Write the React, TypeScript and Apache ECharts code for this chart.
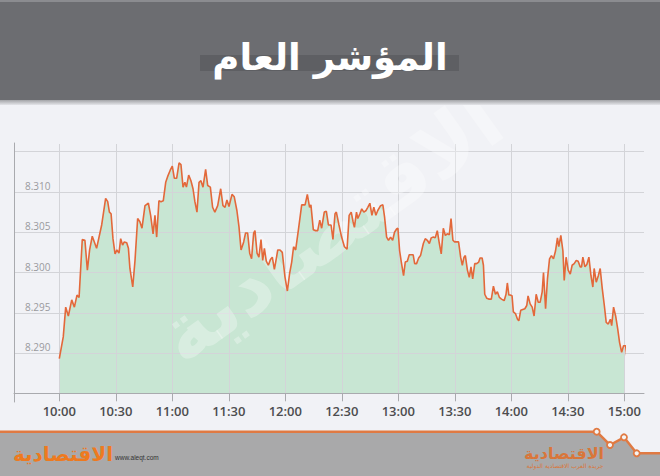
import React, { useEffect, useRef } from "react";
import * as echarts from "echarts";

// minutes after 10:00
const minutes: number[] = [
  0, 2.1, 3.4, 4.8, 6.6, 8.0, 9.4, 10.5, 12.2, 13.6, 14.9, 16.1, 17.5, 19.8, 22.5, 24.6, 25.7, 26.6, 27.5, 28.5,
  29.6, 30.6, 31.7, 32.6, 33.6, 34.5, 35.8, 36.7, 37.5, 39.0, 40.2, 41.6, 42.8, 43.9, 45.5, 47.3, 48.5, 49.8, 50.8, 51.7,
  52.9, 54.0, 55.2, 56.5, 57.5, 58.9, 60.0, 61.1, 62.3, 63.6, 64.6, 65.7, 66.7, 67.5, 68.7, 69.9, 71.0, 72.0, 73.1, 74.2,
  75.2, 76.3, 77.7, 78.8, 80.2, 81.4, 82.6, 84.1, 85.7, 86.9, 88.0, 89.0, 90.1, 91.7, 92.9, 94.3, 95.4, 96.5, 97.9, 98.9,
  100.0, 101.1, 102.1, 103.2, 103.9, 105.0, 106.0, 107.1, 108.0, 108.9, 109.9, 111.0, 112.1, 113.1, 114.2, 114.9, 116.0, 117.2, 118.4, 119.8,
  121.1, 122.3, 123.4, 124.4, 125.5, 126.9, 128.7, 130.5, 131.7, 132.9, 133.6, 134.9, 136.1, 137.2, 138.3, 139.3, 140.7, 141.8, 142.9, 144.3,
  145.3, 146.4, 147.1, 148.5, 149.9, 151.4, 152.8, 153.9, 155.0, 156.0, 156.7, 157.8, 158.5, 159.6, 160.6, 161.7, 162.9, 163.8, 164.9, 166.0,
  167.0, 168.1, 169.1, 170.6, 171.8, 172.7, 173.8, 174.8, 175.9, 177.0, 178.0, 179.1, 179.8, 180.7, 181.6, 182.8, 183.7, 184.8, 185.8, 186.9,
  187.9, 188.7, 189.7, 190.8, 191.8, 193.3, 194.3, 195.4, 196.5, 197.5, 198.6, 199.6, 200.7, 201.8, 202.8, 203.9, 205.0, 206.0, 207.1, 208.0,
  209.0, 209.9, 211.0, 212.0, 213.1, 214.0, 214.9, 215.6, 216.7, 217.7, 218.6, 219.5, 220.6, 221.6, 222.7, 223.4, 224.5, 225.2, 225.9, 227.0,
  228.0, 229.4, 230.5, 231.6, 232.6, 233.7, 234.8, 236.2, 237.2, 237.9, 238.7, 239.4, 240.4, 241.1, 242.2, 243.3, 244.0, 245.0, 246.1, 247.2,
  248.2, 248.9, 250.0, 251.1, 252.1, 253.2, 254.3, 255.3, 256.4, 257.1, 258.2, 259.2, 260.3, 261.3, 262.4, 263.5, 264.5, 265.2, 266.3, 267.4,
  268.1, 269.1, 270.2, 271.3, 272.3, 273.4, 274.5, 275.5, 276.6, 277.3, 278.0, 279.1, 280.1, 281.2, 282.3, 283.3, 284.0, 285.1, 286.2, 287.2,
  288.3, 289.4, 290.4, 291.5, 292.6, 293.3, 294.3, 295.4, 296.5, 297.5, 298.6, 299.6, 300.7, 301.4,
];

const values: number[] = [
  8.2893, 8.2920, 8.2957, 8.2946, 8.2966, 8.2957, 8.2972, 8.2969, 8.3041, 8.3040, 8.3003, 8.3028, 8.3045, 8.3030, 8.3059, 8.3092, 8.3088, 8.3075, 8.3073, 8.3042,
  8.3023, 8.3028, 8.3024, 8.3042, 8.3034, 8.3038, 8.3037, 8.3030, 8.3005, 8.2982, 8.3015, 8.3067, 8.3063, 8.3055, 8.3083, 8.3086, 8.3071, 8.3048, 8.3071, 8.3044,
  8.3089, 8.3088, 8.3089, 8.3112, 8.3119, 8.3127, 8.3132, 8.3117, 8.3117, 8.3136, 8.3134, 8.3106, 8.3112, 8.3106, 8.3121, 8.3114, 8.3104, 8.3088, 8.3075, 8.3112,
  8.3114, 8.3106, 8.3128, 8.3108, 8.3106, 8.3081, 8.3075, 8.3083, 8.3104, 8.3083, 8.3081, 8.3090, 8.3082, 8.3097, 8.3094, 8.3077, 8.3057, 8.3028, 8.3038, 8.3049,
  8.3049, 8.3024, 8.3017, 8.3049, 8.3052, 8.3024, 8.3019, 8.3041, 8.3015, 8.3030, 8.3014, 8.3009, 8.3016, 8.3019, 8.3004, 8.3013, 8.3028, 8.3028, 8.3025, 8.2995,
  8.2977, 8.2999, 8.3013, 8.3032, 8.3028, 8.3052, 8.3084, 8.3084, 8.3097, 8.3081, 8.3084, 8.3053, 8.3052, 8.3052, 8.3065, 8.3055, 8.3075, 8.3076, 8.3059, 8.3059,
  8.3041, 8.3073, 8.3075, 8.3059, 8.3044, 8.3032, 8.3029, 8.3071, 8.3075, 8.3063, 8.3056, 8.3075, 8.3067, 8.3073, 8.3079, 8.3075, 8.3077, 8.3081, 8.3086, 8.3071,
  8.3081, 8.3071, 8.3077, 8.3083, 8.3084, 8.3069, 8.3044, 8.3040, 8.3044, 8.3040, 8.3050, 8.3054, 8.3055, 8.3027, 8.3013, 8.2996, 8.3013, 8.3014, 8.3022, 8.3022,
  8.3022, 8.3011, 8.3011, 8.3018, 8.3021, 8.3036, 8.3042, 8.3040, 8.3036, 8.3043, 8.3044, 8.3043, 8.3052, 8.3036, 8.3023, 8.3055, 8.3046, 8.3048, 8.3047, 8.3067,
  8.3040, 8.3038, 8.3038, 8.3038, 8.3019, 8.3009, 8.3019, 8.3021, 8.3003, 8.2994, 8.3007, 8.2992, 8.3011, 8.3011, 8.3013, 8.3018, 8.3018, 8.3009, 8.2973, 8.2968,
  8.2967, 8.2967, 8.2983, 8.2973, 8.2976, 8.2969, 8.2967, 8.2965, 8.2973, 8.2987, 8.2972, 8.2972, 8.2971, 8.2951, 8.2949, 8.2942, 8.2940, 8.2953, 8.2954, 8.2955,
  8.2959, 8.2971, 8.2961, 8.2957, 8.2946, 8.2973, 8.2963, 8.2963, 8.2976, 8.3000, 8.2955, 8.2992, 8.3017, 8.3021, 8.3017, 8.3027, 8.3043, 8.3032, 8.3046, 8.3027,
  8.2990, 8.3019, 8.3003, 8.2998, 8.3009, 8.3011, 8.3015, 8.3014, 8.3007, 8.3007, 8.3019, 8.3007, 8.3010, 8.3019, 8.2996, 8.2982, 8.3005, 8.2988, 8.2996, 8.3005,
  8.2980, 8.2959, 8.2938, 8.2936, 8.2942, 8.2934, 8.2957, 8.2946, 8.2930, 8.2913, 8.2901, 8.2909, 8.2909, 8.2895,
];

const yTicks = { min: 8.285, max: 8.315, step: 0.005 };
const xTicks = { min: 0, max: 300, step: 30 };

const title = "المؤشر العام";
const brand = "الاقتصادية";
const brandSub = "جريدة العرب الاقتصادية الدولية";
const site = "www.aleqt.com";

export default function App() {
  const ref = useRef<HTMLDivElement>(null);
  useEffect(() => {
    if (!ref.current) return;
    const chart = echarts.init(ref.current, null, { renderer: "svg" });
    const data = minutes.map((m, i) => [m, values[i]]);
    const gridTop = 151.7;
    const gridBottomY = 393.3;
    const pxPerUnit = (gridBottomY - gridTop) / (yTicks.max - yTicks.min);
    const dataTop = 144;
    const yMax1 = yTicks.min + (gridBottomY - dataTop) / pxPerUnit;
    const gridColor = "#d3d4d8";
    const axisColor = "#a9aaae";
    const orange = "#e07a43";

    chart.setOption({
      animation: false,
      backgroundColor: "#f1f2f6",
      grid: [
        { left: 14, right: 16, top: gridTop, bottom: 476 - gridBottomY },
        { left: 59.3, right: 660 - 624.3, top: dataTop, bottom: 476 - gridBottomY },
        { left: 14, width: 1, top: 143, bottom: 476 - 402 },
      ],
      xAxis: [
        {
          gridIndex: 0, type: "value", min: 0, max: 1, z: 2,
          axisLine: { show: true, lineStyle: { color: axisColor, width: 1 } },
          axisTick: { show: false }, axisLabel: { show: false }, splitLine: { show: false },
        },
        {
          gridIndex: 1, type: "value", min: xTicks.min, max: xTicks.max, interval: xTicks.step, z: 2,
          axisLine: { show: false },
          axisTick: { show: true, length: 8, lineStyle: { color: axisColor } },
          splitLine: { show: true, lineStyle: { color: gridColor, width: 1 } },
          axisLabel: {
            margin: 11,
            color: "#4d4d4f",
            fontSize: 13,
            fontWeight: 600,
            fontFamily: "Open Sans",
            formatter: (v: number) => {
              const h = 10 + Math.floor(v / 60);
              const mm = Math.round(v % 60);
              return `${h}:${mm < 10 ? "0" + mm : mm}`;
            },
          },
        },
        { gridIndex: 2, type: "value", show: false },
      ],
      yAxis: [
        {
          gridIndex: 0, type: "value", min: yTicks.min, max: yTicks.max, interval: yTicks.step, z: 2,
          axisLine: { show: false }, axisTick: { show: false },
          splitLine: { show: true, lineStyle: { color: gridColor, width: 1 } },
          axisLabel: {
            inside: true,
            margin: 11,
            color: "#9a9a9e",
            fontSize: 10,
            fontFamily: "Open Sans",
            verticalAlign: "bottom",
            lineHeight: 12,
            formatter: (v: number) =>
              Math.abs(v - yTicks.min) < 1e-6 || Math.abs(v - yTicks.max) < 1e-6 ? "" : v.toFixed(3),
          },
        },
        { gridIndex: 1, type: "value", min: yTicks.min, max: yMax1, show: false },
        {
          gridIndex: 2, type: "value", min: 0, max: 1, z: 2,
          axisLine: { show: true, lineStyle: { color: axisColor, width: 1 } },
          axisTick: { show: false }, axisLabel: { show: false }, splitLine: { show: false },
        },
      ],
      series: [
        {
          type: "line", xAxisIndex: 1, yAxisIndex: 1, data, z: 1, clip: false,
          showSymbol: false, symbol: "none", silent: true,
          lineStyle: { width: 0, opacity: 0 },
          areaStyle: { color: "#c8e6d3", opacity: 1 },
        },
        {
          type: "line", xAxisIndex: 1, yAxisIndex: 1, data, z: 4, clip: false,
          showSymbol: false, symbol: "none", silent: true,
          lineStyle: { width: 1.6, color: "#e3683a" },
        },
      ],
      graphic: [
        {
          type: "text", x: 330, y: 228, rotation: 0.62, z: 3,
          style: {
            text: brand, fill: "rgba(255,255,255,0.3)", fontSize: 80, fontWeight: "bold",
            fontFamily: "DejaVu Sans", align: "center", verticalAlign: "middle",
          },
        },
        { type: "rect", shape: { x: 0, y: 0, width: 660, height: 101 }, style: { fill: "#6c6d71" }, z: 10 },
        { type: "rect", shape: { x: 0, y: 0, width: 660, height: 2 }, style: { fill: "#8b8c90" }, z: 10 },
        {
          type: "rect", shape: { x: 0, y: 100, width: 660, height: 5 },
          style: {
            fill: new echarts.graphic.LinearGradient(0, 0, 0, 1, [
              { offset: 0, color: "#a3a4a7" },
              { offset: 1, color: "#e4e5e9" },
            ]),
          },
          z: 10,
        },
        { type: "rect", shape: { x: 200, y: 55, width: 259, height: 16 }, style: { fill: "#5e5f63" }, z: 10 },
        {
          type: "text", x: 330, y: 57, z: 11,
          style: {
            text: title, fill: "#ffffff", fontSize: 37, fontWeight: "bold",
            fontFamily: "DejaVu Sans", align: "center", verticalAlign: "middle",
          },
        },
        {
          type: "polygon", z: 10,
          shape: {
            points: [
              [0, 432], [596.7, 432], [610, 445], [624, 437.3], [636.7, 453.3], [660, 453.3],
              [660, 476], [0, 476],
            ],
          },
          style: { fill: "#a9a9aa" },
        },
        {
          type: "polyline", z: 11,
          shape: {
            points: [[0, 431.7], [596.7, 431.7], [610, 445], [624, 437.3], [636.7, 453.3], [660, 453.3]],
          },
          style: { stroke: orange, lineWidth: 2.5, fill: null },
        },
        ...[[596.7, 431.7], [610, 445], [624, 437.3], [636.7, 453.3]].map(([cx, cy]) => ({
          type: "circle", z: 12,
          shape: { cx, cy, r: 3 },
          style: { fill: "#f4f4f4", stroke: orange, lineWidth: 1.8 },
        })),
        {
          type: "text", x: 115, y: 457, z: 11,
          style: {
            text: site, fill: "#333333", fontSize: 6.5, fontFamily: "Liberation Sans",
            align: "left", verticalAlign: "middle",
          },
        },
        {
          type: "text", x: 63, y: 454, z: 12,
          style: {
            text: brand, fill: "#ee7a1f", fontSize: 20, fontWeight: "bold",
            fontFamily: "DejaVu Sans", align: "center", verticalAlign: "middle",
          },
        },
        {
          type: "text", x: 564, y: 453, z: 12,
          style: {
            text: brand, fill: "#d9763a", fontSize: 16, fontWeight: "bold",
            fontFamily: "DejaVu Sans", align: "center", verticalAlign: "middle",
          },
        },
        {
          type: "text", x: 565, y: 465, z: 12,
          style: {
            text: brandSub, fill: "#d9763a", fontSize: 6,
            fontFamily: "DejaVu Sans", align: "center", verticalAlign: "middle",
          },
        },
      ],
    });
    return () => chart.dispose();
  }, []);
  return (
    <div
      ref={ref}
      style={{ position: "fixed", left: 0, top: 0, width: 660, height: 476 }}
    />
  );
}
